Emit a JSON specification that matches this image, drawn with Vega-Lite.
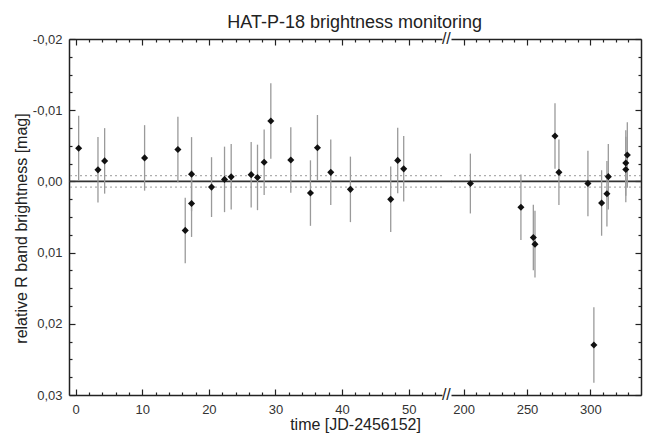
{
  "$schema": "https://vega.github.io/schema/vega-lite/v6.json",
  "padding": {"left": 13, "top": 14, "right": 5, "bottom": 1},
  "title": {"text": "HAT-P-18 brightness monitoring", "fontSize": 18, "fontWeight": "normal", "color": "#222", "anchor": "middle", "font": "Liberation Sans", "offset": -1, "dx": 27},
  "config": {
    "font": "Liberation Sans",
    "view": {"stroke": null},
    "axis": {"grid": false, "labelFont": "Liberation Sans", "labelFontSize": 13, "labelColor": "#333", "titleFont": "Liberation Sans", "titleFontSize": 16, "titleFontWeight": "normal", "titleColor": "#222", "domainColor": "#222", "tickColor": "#222", "domainWidth": 1.5, "tickWidth": 1.2}
  },
  "datasets": {
    "early": [
      {"t": 0.45, "m": -0.00466, "lo": -0.00923, "hi": -0.00009},
      {"t": 3.35, "m": -0.00162, "lo": -0.00622, "hi": 0.00298},
      {"t": 4.35, "m": -0.00288, "lo": -0.00748, "hi": 0.00172},
      {"t": 10.35, "m": -0.0033, "lo": -0.0079, "hi": 0.0013},
      {"t": 15.35, "m": -0.00448, "lo": -0.00908, "hi": 0.00012},
      {"t": 16.45, "m": 0.00688, "lo": 0.00228, "hi": 0.01148},
      {"t": 17.4, "m": -0.00102, "lo": -0.00622, "hi": 0.00418},
      {"t": 17.4, "m": 0.0031, "lo": -0.0016, "hi": 0.0078},
      {"t": 20.4, "m": 0.0008, "lo": -0.0034, "hi": 0.005},
      {"t": 22.35, "m": -0.00028, "lo": -0.00488, "hi": 0.00432},
      {"t": 23.35, "m": -0.00064, "lo": -0.00524, "hi": 0.00396},
      {"t": 26.35, "m": -0.00095, "lo": -0.00555, "hi": 0.00365},
      {"t": 27.3, "m": -0.00056, "lo": -0.00516, "hi": 0.00404},
      {"t": 28.3, "m": -0.0027, "lo": -0.0073, "hi": 0.0019},
      {"t": 29.3, "m": -0.00848, "lo": -0.01378, "hi": -0.00318},
      {"t": 32.3, "m": -0.003, "lo": -0.0076, "hi": 0.0016},
      {"t": 35.25, "m": 0.00164, "lo": -0.00296, "hi": 0.00624},
      {"t": 36.3, "m": -0.00473, "lo": -0.00933, "hi": -0.00013},
      {"t": 38.3, "m": -0.00127, "lo": -0.00587, "hi": 0.00333},
      {"t": 41.25, "m": 0.00112, "lo": -0.00348, "hi": 0.00572},
      {"t": 47.3, "m": 0.00252, "lo": -0.00208, "hi": 0.00712},
      {"t": 48.35, "m": -0.00295, "lo": -0.00755, "hi": 0.00165},
      {"t": 49.25, "m": -0.00176, "lo": -0.00636, "hi": 0.00284}
    ],
    "late": [
      {"t": 205.3, "m": 0.0003, "lo": -0.0039, "hi": 0.0045},
      {"t": 245.2, "m": 0.00362, "lo": -0.00098, "hi": 0.00822},
      {"t": 255.0, "m": 0.00789, "lo": 0.00329, "hi": 0.01249},
      {"t": 256.3, "m": 0.00881, "lo": 0.00411, "hi": 0.01351},
      {"t": 272.1, "m": -0.00638, "lo": -0.01098, "hi": -0.00178},
      {"t": 275.2, "m": -0.00127, "lo": -0.00587, "hi": 0.00333},
      {"t": 298.1, "m": 0.00028, "lo": -0.00432, "hi": 0.00488},
      {"t": 302.8, "m": 0.02297, "lo": 0.01767, "hi": 0.02827},
      {"t": 308.9, "m": 0.00303, "lo": -0.00157, "hi": 0.00763},
      {"t": 313.1, "m": 0.00173, "lo": -0.00287, "hi": 0.00633},
      {"t": 314.2, "m": -0.00067, "lo": -0.00527, "hi": 0.00393},
      {"t": 328.0, "m": -0.00168, "lo": -0.00628, "hi": 0.00292},
      {"t": 328.0, "m": -0.00259, "lo": -0.00719, "hi": 0.00201},
      {"t": 329.2, "m": -0.00372, "lo": -0.00832, "hi": 0.00088}
    ]
  },
  "bounds": "flush",
  "spacing": 9,
  "hconcat": [
    {
      "width": 373,
      "height": 356,
      "data": {"name": "early"},
      "layer": [
        {"data": {"values": [{}]}, "mark": {"type": "rule", "color": "#9a9a9a", "strokeDash": [2, 3], "strokeWidth": 1},
         "encoding": {"y": {"datum": -0.0008, "type": "quantitative", "scale": {"domain": [-0.02, 0.03], "reverse": true, "nice": false, "zero": false}, "axis": null}}},
        {"data": {"values": [{}]}, "mark": {"type": "rule", "color": "#9a9a9a", "strokeDash": [2, 3], "strokeWidth": 1},
         "encoding": {"y": {"datum": 0.0008, "type": "quantitative", "scale": {"domain": [-0.02, 0.03], "reverse": true, "nice": false, "zero": false}, "axis": null}}},
        {"data": {"values": [{}]}, "mark": {"type": "rule", "color": "#333", "strokeWidth": 1.8, "clip": false},
         "encoding": {
           "x": {"datum": -1, "type": "quantitative", "scale": {"domain": [-1, 55], "nice": false, "zero": false}, "axis": null},
           "x2": {"datum": 56.4},
           "y": {"datum": 0, "type": "quantitative", "scale": {"domain": [-0.02, 0.03], "reverse": true, "nice": false, "zero": false}, "axis": null}}},
        {"mark": {"type": "rule", "color": "#9a9a9a", "strokeWidth": 1.3},
         "encoding": {
           "x": {"field": "t", "type": "quantitative", "scale": {"domain": [-1, 55], "nice": false, "zero": false}, "axis": null},
           "y": {"field": "lo", "type": "quantitative", "scale": {"domain": [-0.02, 0.03], "reverse": true, "nice": false, "zero": false}, "axis": null},
           "y2": {"field": "hi"}}},
        {"mark": {"type": "point", "shape": "diamond", "filled": true, "size": 50, "color": "#111", "opacity": 1},
         "encoding": {
           "x": {"field": "t", "type": "quantitative", "scale": {"domain": [-1, 55], "nice": false, "zero": false}, "axis": null},
           "y": {"field": "m", "type": "quantitative", "scale": {"domain": [-0.02, 0.03], "reverse": true, "nice": false, "zero": false}, "axis": null}}},
        {"data": {"values": [{}]}, "mark": {"type": "text", "text": "//", "fontSize": 16, "color": "#222", "font": "Liberation Sans", "clip": false},
         "encoding": {
           "x": {"datum": 55.65, "type": "quantitative", "scale": {"domain": [-1, 55], "nice": false, "zero": false}, "axis": null},
           "y": {"datum": -0.02, "type": "quantitative", "scale": {"domain": [-0.02, 0.03], "reverse": true, "nice": false, "zero": false}, "axis": null}}},
        {"data": {"values": [{}]}, "mark": {"type": "text", "text": "//", "fontSize": 16, "color": "#222", "font": "Liberation Sans", "clip": false},
         "encoding": {
           "x": {"datum": 55.65, "type": "quantitative", "scale": {"domain": [-1, 55], "nice": false, "zero": false}, "axis": null},
           "y": {"datum": 0.03, "type": "quantitative", "scale": {"domain": [-0.02, 0.03], "reverse": true, "nice": false, "zero": false}, "axis": null}}},
        {"mark": {"type": "point", "opacity": 0},
         "encoding": {
           "x": {"field": "t", "type": "quantitative", "scale": {"domain": [-1, 55], "nice": false, "zero": false},
                 "axis": {"orient": "bottom", "values": [0, 10, 20, 30, 40, 50], "ticks": false, "domain": false, "labelPadding": 8, "labelFlush": false, "labelOverlap": false, "title": "time [JD-2456152]", "titleX": 286, "titlePadding": 0}},
           "y": {"field": "m", "type": "quantitative", "scale": {"domain": [-0.02, 0.03], "reverse": true, "nice": false, "zero": false},
                 "axis": {"orient": "left", "values": [-0.02, -0.01, 0, 0.01, 0.02, 0.03], "ticks": false, "domain": false, "labelPadding": 7, "labelFlush": false, "labelOverlap": false,
                          "labelExpr": "(datum.value < -0.000001 ? '-' : '') + replace(format(abs(datum.value), '.2f'), '.', ',')",
                          "title": "relative R band brightness [mag]", "titlePadding": 3, "titleY": 189}}}},
        {"mark": {"type": "point", "opacity": 0},
         "encoding": {
           "x": {"field": "t", "type": "quantitative", "scale": {"domain": [-1, 55], "nice": false, "zero": false},
                 "axis": {"orient": "bottom", "values": [0, 10, 20, 30, 40, 50], "tickSize": -6, "labels": false, "domain": true, "title": null}},
           "y": {"field": "m", "type": "quantitative", "scale": {"domain": [-0.02, 0.03], "reverse": true, "nice": false, "zero": false},
                 "axis": {"orient": "left", "values": [-0.02, -0.01, 0, 0.01, 0.02, 0.03], "tickSize": -6, "labels": false, "domain": true, "title": null}}}},
        {"mark": {"type": "point", "opacity": 0},
         "encoding": {
           "x": {"field": "t", "type": "quantitative", "scale": {"domain": [-1, 55], "nice": false, "zero": false},
                 "axis": {"orient": "bottom", "values": [2, 4, 6, 8, 12, 14, 16, 18, 22, 24, 26, 28, 32, 34, 36, 38, 42, 44, 46, 48, 52, 54], "tickSize": -3, "labels": false, "domain": false, "title": null}},
           "y": {"field": "m", "type": "quantitative", "scale": {"domain": [-0.02, 0.03], "reverse": true, "nice": false, "zero": false},
                 "axis": {"orient": "left", "values": [-0.0175, -0.015, -0.0125, -0.0075, -0.005, -0.0025, 0.0025, 0.005, 0.0075, 0.0125, 0.015, 0.0175, 0.0225, 0.025, 0.0275], "tickSize": -3, "labels": false, "domain": false, "title": null}}}},
        {"mark": {"type": "point", "opacity": 0},
         "encoding": {
           "x": {"field": "t", "type": "quantitative", "scale": {"domain": [-1, 55], "nice": false, "zero": false},
                 "axis": {"orient": "top", "values": [0, 10, 20, 30, 40, 50], "tickSize": -6, "labels": false, "domain": true, "title": null}},
           "y": {"field": "m", "type": "quantitative", "scale": {"domain": [-0.02, 0.03], "reverse": true, "nice": false, "zero": false}, "axis": null}}},
        {"mark": {"type": "point", "opacity": 0},
         "encoding": {
           "x": {"field": "t", "type": "quantitative", "scale": {"domain": [-1, 55], "nice": false, "zero": false},
                 "axis": {"orient": "top", "values": [2, 4, 6, 8, 12, 14, 16, 18, 22, 24, 26, 28, 32, 34, 36, 38, 42, 44, 46, 48, 52, 54], "tickSize": -3, "labels": false, "domain": false, "title": null}},
           "y": {"field": "m", "type": "quantitative", "scale": {"domain": [-0.02, 0.03], "reverse": true, "nice": false, "zero": false}, "axis": null}}}
      ],
      "resolve": {"axis": {"x": "independent", "y": "independent"}}
    },
    {
      "width": 190,
      "height": 356,
      "data": {"name": "late"},
      "layer": [
        {"data": {"values": [{}]}, "mark": {"type": "rule", "color": "#9a9a9a", "strokeDash": [2, 3], "strokeWidth": 1},
         "encoding": {"y": {"datum": -0.0008, "type": "quantitative", "scale": {"domain": [-0.02, 0.03], "reverse": true, "nice": false, "zero": false}, "axis": null}}},
        {"data": {"values": [{}]}, "mark": {"type": "rule", "color": "#9a9a9a", "strokeDash": [2, 3], "strokeWidth": 1},
         "encoding": {"y": {"datum": 0.0008, "type": "quantitative", "scale": {"domain": [-0.02, 0.03], "reverse": true, "nice": false, "zero": false}, "axis": null}}},
        {"data": {"values": [{}]}, "mark": {"type": "rule", "color": "#333", "strokeWidth": 1.8},
         "encoding": {"y": {"datum": 0, "type": "quantitative", "scale": {"domain": [-0.02, 0.03], "reverse": true, "nice": false, "zero": false}, "axis": null}}},
        {"mark": {"type": "rule", "color": "#9a9a9a", "strokeWidth": 1.3},
         "encoding": {
           "x": {"field": "t", "type": "quantitative", "scale": {"domain": [190, 340], "nice": false, "zero": false}, "axis": null},
           "y": {"field": "lo", "type": "quantitative", "scale": {"domain": [-0.02, 0.03], "reverse": true, "nice": false, "zero": false}, "axis": null},
           "y2": {"field": "hi"}}},
        {"mark": {"type": "point", "shape": "diamond", "filled": true, "size": 50, "color": "#111", "opacity": 1},
         "encoding": {
           "x": {"field": "t", "type": "quantitative", "scale": {"domain": [190, 340], "nice": false, "zero": false}, "axis": null},
           "y": {"field": "m", "type": "quantitative", "scale": {"domain": [-0.02, 0.03], "reverse": true, "nice": false, "zero": false}, "axis": null}}},
        {"mark": {"type": "point", "opacity": 0},
         "encoding": {
           "x": {"field": "t", "type": "quantitative", "scale": {"domain": [190, 340], "nice": false, "zero": false},
                 "axis": {"orient": "bottom", "values": [200, 250, 300], "ticks": false, "domain": false, "labelPadding": 8, "labelFlush": false, "labelOverlap": false, "title": null}},
           "y": {"field": "m", "type": "quantitative", "scale": {"domain": [-0.02, 0.03], "reverse": true, "nice": false, "zero": false},
                 "axis": {"orient": "right", "values": [-0.02, -0.01, 0, 0.01, 0.02, 0.03], "tickSize": -6, "labels": false, "domain": true, "title": null}}}},
        {"mark": {"type": "point", "opacity": 0},
         "encoding": {
           "x": {"field": "t", "type": "quantitative", "scale": {"domain": [190, 340], "nice": false, "zero": false},
                 "axis": {"orient": "bottom", "values": [200, 250, 300], "tickSize": -6, "labels": false, "domain": true, "title": null}},
           "y": {"field": "m", "type": "quantitative", "scale": {"domain": [-0.02, 0.03], "reverse": true, "nice": false, "zero": false},
                 "axis": {"orient": "right", "values": [-0.0175, -0.015, -0.0125, -0.0075, -0.005, -0.0025, 0.0025, 0.005, 0.0075, 0.0125, 0.015, 0.0175, 0.0225, 0.025, 0.0275], "tickSize": -3, "labels": false, "domain": false, "title": null}}}},
        {"mark": {"type": "point", "opacity": 0},
         "encoding": {
           "x": {"field": "t", "type": "quantitative", "scale": {"domain": [190, 340], "nice": false, "zero": false},
                 "axis": {"orient": "bottom", "values": [210, 220, 230, 240, 260, 270, 280, 290, 310, 320, 330], "tickSize": -3, "labels": false, "domain": false, "title": null}},
           "y": {"field": "m", "type": "quantitative", "scale": {"domain": [-0.02, 0.03], "reverse": true, "nice": false, "zero": false}, "axis": null}}},
        {"mark": {"type": "point", "opacity": 0},
         "encoding": {
           "x": {"field": "t", "type": "quantitative", "scale": {"domain": [190, 340], "nice": false, "zero": false},
                 "axis": {"orient": "top", "values": [200, 250, 300], "tickSize": -6, "labels": false, "domain": true, "title": null}},
           "y": {"field": "m", "type": "quantitative", "scale": {"domain": [-0.02, 0.03], "reverse": true, "nice": false, "zero": false}, "axis": null}}},
        {"mark": {"type": "point", "opacity": 0},
         "encoding": {
           "x": {"field": "t", "type": "quantitative", "scale": {"domain": [190, 340], "nice": false, "zero": false},
                 "axis": {"orient": "top", "values": [210, 220, 230, 240, 260, 270, 280, 290, 310, 320, 330], "tickSize": -3, "labels": false, "domain": false, "title": null}},
           "y": {"field": "m", "type": "quantitative", "scale": {"domain": [-0.02, 0.03], "reverse": true, "nice": false, "zero": false}, "axis": null}}}
      ],
      "resolve": {"axis": {"x": "independent", "y": "independent"}}
    }
  ]
}
